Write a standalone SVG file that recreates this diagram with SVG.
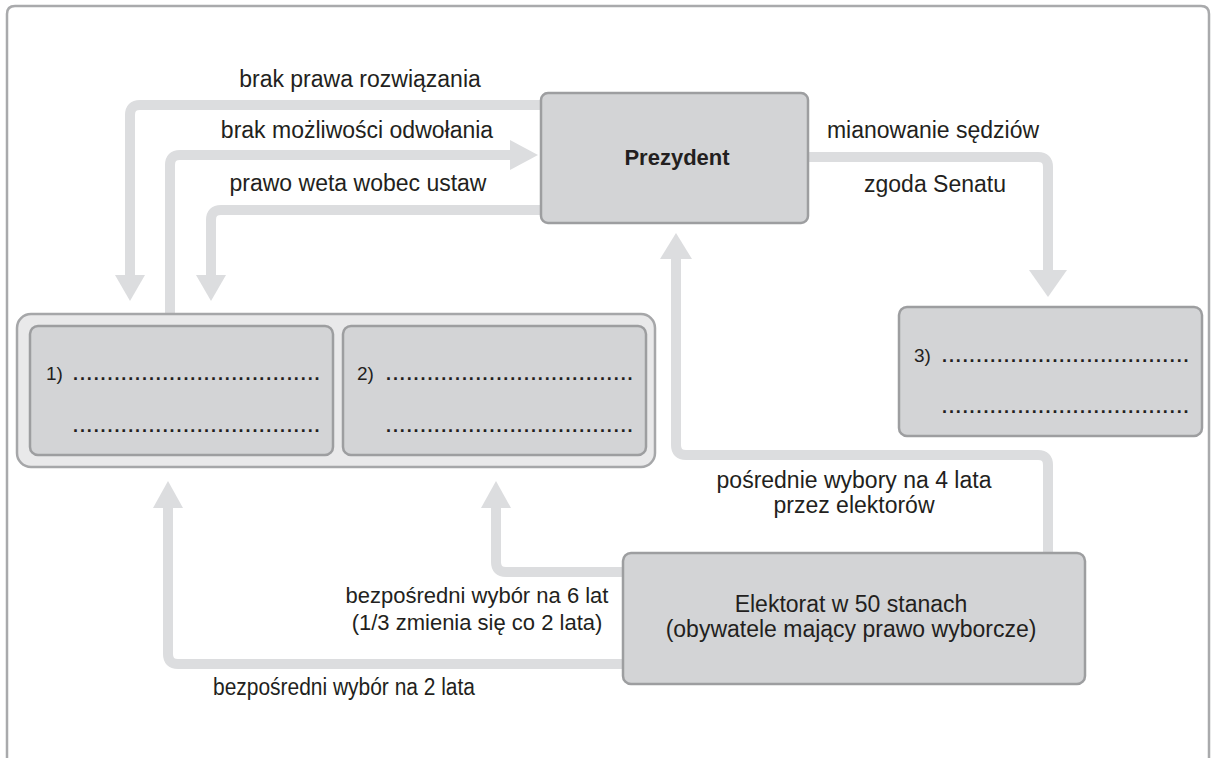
<svg xmlns="http://www.w3.org/2000/svg" width="1212" height="758" viewBox="0 0 1212 758">
<style>
.frame{fill:none;stroke:#a9aaac;stroke-width:2.5}
.box{fill:#d3d4d6;stroke:#9d9ea0;stroke-width:2.5}
.cont{fill:#e9e9ea;stroke:#a6a7a9;stroke-width:2.5}
.ln{fill:none;stroke:#dcdddf;stroke-width:10}
.hd{fill:#dcdddf}
.t{font-family:"Liberation Sans",Arial,sans-serif;font-size:23px;fill:#231f20}
.s{font-size:22px}
.m{text-anchor:middle}
.b{font-weight:bold;font-size:22px}
.n{font-family:"Liberation Sans",Arial,sans-serif;font-size:19px;fill:#231f20}
.d{font-family:"Liberation Sans",Arial,sans-serif;font-size:18px;font-weight:bold;fill:#231f20;letter-spacing:1.9px}
</style>
<rect width="1212" height="758" fill="#ffffff"/>
<path class="frame" d="M7,760 V14 Q7,6 15,6 H1201 Q1209,6 1209,14 V760"/>

<g id="connectors">
  <path class="ln" d="M541,105 H140 Q130,105 130,115 V276"/>
  <polygon class="hd" points="115,275 145,275 130,301"/>
  <path class="ln" d="M170,314 V165 Q170,155 180,155 H512"/>
  <polygon class="hd" points="510,140 510,170 538,155"/>
  <path class="ln" d="M541,210 H221 Q211,210 211,220 V276"/>
  <polygon class="hd" points="196,275 226,275 211,301"/>
  <path class="ln" d="M808,157 H1038 Q1048,157 1048,167 V271"/>
  <polygon class="hd" points="1029,270 1067,270 1048,297"/>
  <path class="ln" d="M1048,553 V465 Q1048,455 1038,455 H686 Q676,455 676,445 V258"/>
  <polygon class="hd" points="660,259 692,259 676,233"/>
  <path class="ln" d="M623,572 H506 Q496,572 496,562 V507"/>
  <polygon class="hd" points="481,508 511,508 496,481"/>
  <path class="ln" d="M623,664 H178 Q168,664 168,654 V507"/>
  <polygon class="hd" points="153,508 183,508 168,481"/>
  <text class="t m" x="360" y="87">brak prawa rozwiązania</text>
  <text class="t m" x="357" y="138">brak możliwości odwołania</text>
  <text class="t m" x="358" y="191">prawo weta wobec ustaw</text>
  <text class="t m" x="933" y="138">mianowanie sędziów</text>
  <text class="t m" x="935" y="192">zgoda Senatu</text>
  <text class="t m" x="854" y="488">pośrednie wybory na 4 lata</text>
  <text class="t m" x="854" y="513">przez elektorów</text>
  <text class="t s m" x="477" y="603">bezpośredni wybór na 6 lat</text>
  <text class="t s m" x="477" y="630">(1/3 zmienia się co 2 lata)</text>
  <text class="t" x="213" y="695" textLength="262" lengthAdjust="spacingAndGlyphs">bezpośredni wybór na 2 lata</text>
</g>

<g id="prezydent">
  <rect class="box" x="541" y="93" width="267" height="130" rx="7"/>
  <text class="t m b" x="677" y="165">Prezydent</text>
</g>

<g id="kongres">
  <rect class="cont" x="17" y="314" width="638" height="153" rx="14"/>
  <g id="izba1">
    <rect class="box" x="30" y="326" width="303" height="129" rx="8"/>
    <text class="n" x="46" y="380">1)</text>
    <text class="d" x="73" y="380">....................................</text>
    <text class="d" x="73" y="432">....................................</text>
  </g>
  <g id="izba2">
    <rect class="box" x="343" y="326" width="303" height="129" rx="8"/>
    <text class="n" x="357" y="380">2)</text>
    <text class="d" x="386" y="380">....................................</text>
    <text class="d" x="386" y="432">....................................</text>
  </g>
</g>

<g id="sad">
  <rect class="box" x="899" y="307" width="303" height="129" rx="8"/>
  <text class="n" x="914" y="362">3)</text>
  <text class="d" x="942" y="362">....................................</text>
  <text class="d" x="942" y="413">....................................</text>
</g>

<g id="elektorat">
  <rect class="box" x="623" y="553" width="462" height="131" rx="8"/>
  <text class="t m" x="851" y="612">Elektorat w 50 stanach</text>
  <text class="t m" x="851" y="637">(obywatele mający prawo wyborcze)</text>
</g>
</svg>
